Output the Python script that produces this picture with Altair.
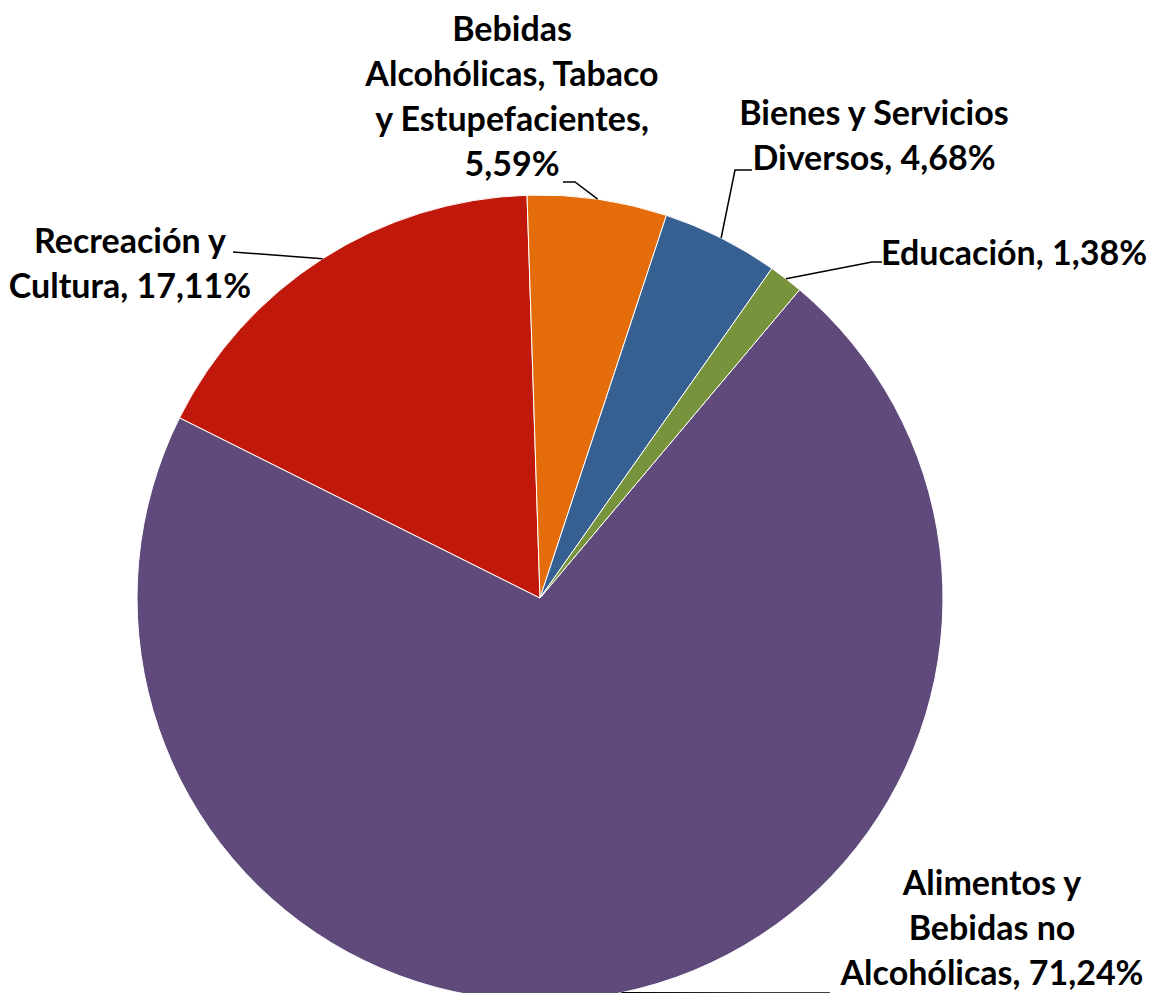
import math
import altair as alt
import pandas as pd

# ---- data ----
categories = [
    "Alimentos y Bebidas no Alcohólicas",
    "Recreación y Cultura",
    "Bebidas Alcohólicas, Tabaco y Estupefacientes",
    "Bienes y Servicios Diversos",
    "Educación",
]
shares = [71.24, 17.11, 5.59, 4.68, 1.38]
label_texts = [
    "Alimentos y\nBebidas no\nAlcohólicas, 71,24%",
    "Recreación y\nCultura, 17,11%",
    "Bebidas\nAlcohólicas, Tabaco\ny Estupefacientes,\n5,59%",
    "Bienes y Servicios\nDiversos, 4,68%",
    "Educación, 1,38%",
]
colors = ["#604A7B", "#C0180A", "#E46C0A", "#376092", "#77933C"]

# ---- layout (pixels, offsets from pie centre, y up; label pos = first line centre) ----
W, H = 1140, 985
CX, CY = 532, 590
R = 403
START = math.radians(40.1)
label_pos = [(452, -287), (-410, 355), (-28, 567), (334, 483), (474, 343)]
leader_pts = [
    [(290, -395)],
    [(-307, 346)],
    [(35, 416), (23, 416)],
    [(195, 428), (212, 428)],
    [(332, 336), (342, 336)],
]

total = sum(shares)
rows, text_rows, line_rows = [], [], []
cum = 0.0
for i, (cat, s) in enumerate(zip(categories, shares)):
    t0 = START + 2 * math.pi * cum / total
    cum += s
    t1 = START + 2 * math.pi * cum / total
    mid = (t0 + t1) / 2
    rows.append({"cat": cat, "t0": t0, "t1": t1, "idx": i})
    text_rows.append({"cat": cat, "label": label_texts[i],
                      "lx": label_pos[i][0], "ly": label_pos[i][1]})
    pts = [(R * math.sin(mid), R * math.cos(mid))] + leader_pts[i]
    for k, (px, py) in enumerate(pts):
        line_rows.append({"cat": cat, "k": k, "px": px, "py": py})

arcs_df = pd.DataFrame(rows)
text_df = pd.DataFrame(text_rows)
line_df = pd.DataFrame(line_rows)

xscale = alt.Scale(domain=[-CX, W - CX], nice=False, zero=False)
yscale = alt.Scale(domain=[CY - H, CY], nice=False, zero=False)

arcs = alt.Chart(arcs_df).mark_arc(outerRadius=R, stroke="white", strokeWidth=1).encode(
    theta=alt.Theta("t0:Q", scale=None),
    theta2="t1:Q",
    color=alt.Color("cat:N", scale=alt.Scale(domain=categories, range=colors), legend=None),
    x=alt.value(CX),
    y=alt.value(CY),
)

lines = alt.Chart(line_df).mark_line(color="black", strokeWidth=1.5).encode(
    x=alt.X("px:Q", scale=xscale, axis=None),
    y=alt.Y("py:Q", scale=yscale, axis=None),
    detail="cat:N",
    order="k:Q",
)

texts = alt.Chart(text_df).mark_text(
    font="Lato", fontWeight="bold", fontSize=34, lineBreak="\n", lineHeight=45,
    align="center", baseline="middle", color="black",
).encode(
    x=alt.X("lx:Q", scale=xscale, axis=None),
    y=alt.Y("ly:Q", scale=yscale, axis=None),
    text="label:N",
)

chart = alt.layer(arcs, lines, texts).properties(
    width=W, height=H, autosize=alt.AutoSizeParams(type="none"), padding=0,
).configure_view(stroke=None)

chart.save("out.html", embed_options={"renderer": "svg", "actions": False})
